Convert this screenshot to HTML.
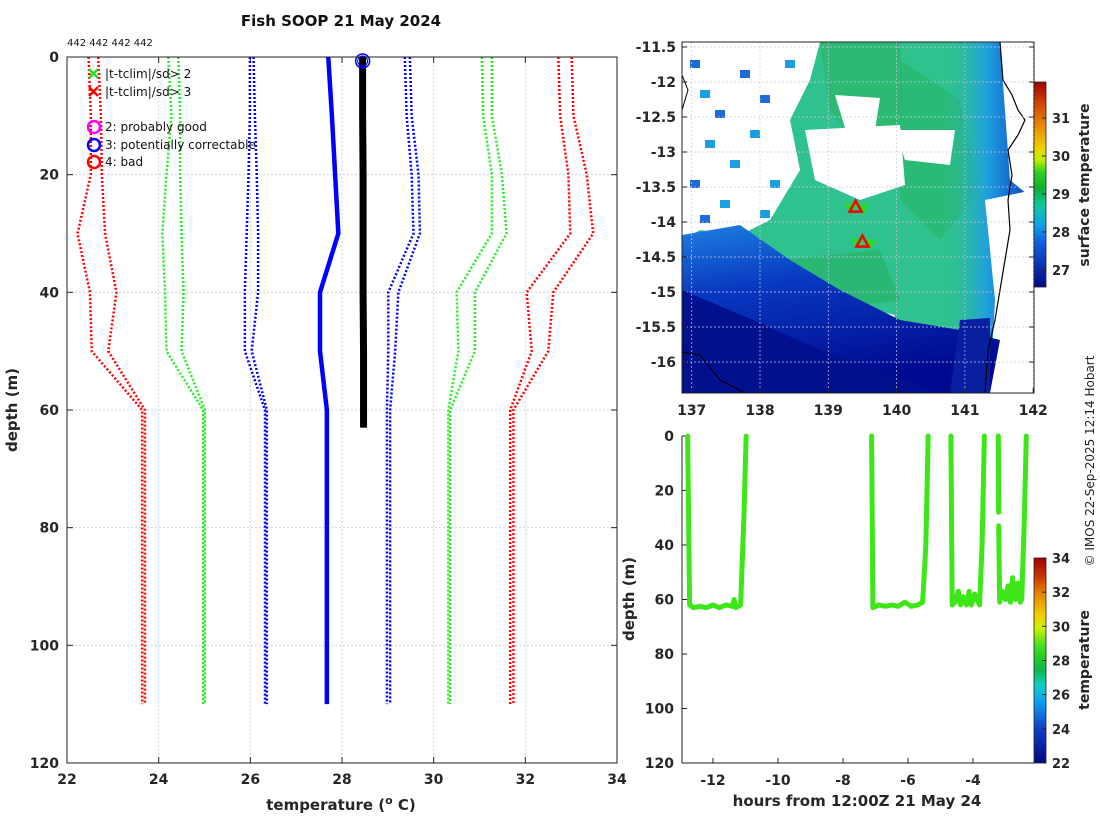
<!DOCTYPE html>
<html><head><meta charset="utf-8">
<style>
html,body{margin:0;padding:0;background:#fff;}
svg{display:block;font-family:"DejaVu Sans","Liberation Sans",sans-serif;}
.tk{font-size:14px;font-weight:bold;fill:#262626;}
.lab{font-size:15px;font-weight:bold;fill:#262626;}
</style></head>
<body>
<svg id="fig" width="1100" height="820" viewBox="0 0 1100 820" xmlns="http://www.w3.org/2000/svg">
<defs>
<linearGradient id="cb1" x1="0" y1="1" x2="0" y2="0">
<stop offset="0" stop-color="#000a80"/><stop offset="0.1" stop-color="#0a30b0"/><stop offset="0.22" stop-color="#1060e0"/>
<stop offset="0.3" stop-color="#10a0e8"/><stop offset="0.4" stop-color="#10c8a0"/><stop offset="0.48" stop-color="#10b030"/>
<stop offset="0.56" stop-color="#30d020"/><stop offset="0.62" stop-color="#c0f000"/><stop offset="0.68" stop-color="#f0d000"/>
<stop offset="0.8" stop-color="#e88000"/><stop offset="0.9" stop-color="#d04000"/><stop offset="1" stop-color="#a00000"/>
</linearGradient>
<linearGradient id="cb2" x1="0" y1="1" x2="0" y2="0">
<stop offset="0" stop-color="#000a80"/><stop offset="0.17" stop-color="#1040c8"/><stop offset="0.3" stop-color="#10a0f0"/>
<stop offset="0.38" stop-color="#10d0c8"/><stop offset="0.45" stop-color="#10b850"/><stop offset="0.52" stop-color="#20d020"/>
<stop offset="0.58" stop-color="#50e020"/><stop offset="0.66" stop-color="#d0f000"/><stop offset="0.72" stop-color="#f0d000"/>
<stop offset="0.83" stop-color="#e88000"/><stop offset="0.92" stop-color="#c03000"/><stop offset="1" stop-color="#a00000"/>
</linearGradient>
<linearGradient id="band" x1="0" y1="0" x2="0.3" y2="1">
<stop offset="0" stop-color="#1e80e0"/><stop offset="0.4" stop-color="#0838c0"/><stop offset="1" stop-color="#000a90"/>
</linearGradient>
<linearGradient id="east" x1="0" y1="0" x2="1" y2="0">
<stop offset="0" stop-color="#2ec08f" stop-opacity="0"/><stop offset="0.5" stop-color="#20a0e0"/><stop offset="1" stop-color="#0838c0"/>
</linearGradient>
<clipPath id="mapclip"><rect x="682" y="42" width="352" height="351"/></clipPath>
</defs>

<text x="341" y="26" text-anchor="middle" style="font-size:15px;font-weight:bold;fill:#111">Fish SOOP 21 May 2024</text>
<text x="67" y="46" style="font-size:10px;fill:#111">442 442 442 442</text>

<g id="left"></g>
<g id="map"></g>
<g id="br"></g>

<text transform="translate(1094,461) rotate(-90)" text-anchor="middle" style="font-size:12px;fill:#222">© IMOS 22-Sep-2025 12:14 Hobart</text>
</svg>

<script>
// ---------- Profile plot data ----------
const depths = [0, 10, 20, 30, 40, 50, 60, 110];
const redL1 = [22.47, 22.52, 22.52, 22.23, 22.50, 22.54, 23.64, 23.64];
const redL2 = [22.68, 22.74, 22.76, 22.83, 23.08, 22.90, 23.70, 23.70];
const greenL1 = [24.21, 24.28, 24.17, 24.08, 24.14, 24.17, 24.97, 24.97];
const greenL2 = [24.43, 24.47, 24.47, 24.50, 24.54, 24.50, 25.01, 25.01];
const blueL1 = [25.99, 25.99, 25.96, 25.92, 25.88, 25.88, 26.32, 26.32];
const blueL2 = [26.07, 26.10, 26.14, 26.17, 26.17, 26.03, 26.36, 26.36];
const climMean = [27.70, 27.78, 27.85, 27.92, 27.52, 27.52, 27.67, 27.67];
const blueR1 = [29.37, 29.41, 29.52, 29.56, 29.01, 29.01, 28.98, 28.98];
const blueR2 = [29.48, 29.52, 29.67, 29.70, 29.23, 29.16, 29.05, 29.05];
const greenR1 = [31.05, 31.08, 31.27, 31.27, 30.50, 30.54, 30.32, 30.32];
const greenR2 = [31.27, 31.27, 31.49, 31.59, 30.90, 30.90, 30.36, 30.36];
const redR1 = [32.72, 32.76, 32.94, 32.98, 32.03, 32.14, 31.67, 31.67];
const redR2 = [33.01, 33.05, 33.34, 33.48, 32.61, 32.50, 31.74, 31.74];
const obsDepth = [0, 10, 20, 30, 40, 50, 60, 63];
const obsTemp = [28.45, 28.45, 28.46, 28.46, 28.46, 28.47, 28.47, 28.47];
const xTicks = [22, 24, 26, 28, 30, 32, 34];
const yTicks = [0, 20, 40, 60, 80, 100, 120];
// ---------- Map data ----------
const lonTicks = [137, 138, 139, 140, 141, 142];
const latTicks = [-11.5, -12, -12.5, -13, -13.5, -14, -14.5, -15, -15.5, -16];
const sstTicks = [27, 28, 29, 30, 31];
const shipLon = [139.40, 139.50];
const shipLat = [-13.78, -14.28];
// ---------- Depth-time data ----------
const hourTicks = [-12, -10, -8, -6, -4];
const dTicks = [0, 20, 40, 60, 80, 100, 120];
const tempTicks = [22, 24, 26, 28, 30, 32, 34];
const seg1H = [-12.78, -12.72, -12.6, -12.4, -12.2, -12.0, -11.8, -11.6, -11.4, -11.35, -11.3, -11.15, -11.05, -10.98];
const seg1D = [0, 62, 63, 62.5, 63, 62, 63, 62, 62.5, 60, 63, 62, 30, 0];
const seg2H = [-7.12, -7.08, -6.9, -6.7, -6.5, -6.3, -6.1, -5.9, -5.7, -5.55, -5.45, -5.38];
const seg2D = [0, 63, 62, 62.5, 62, 62.5, 61, 62.5, 62, 61, 40, 0];
const seg3H = [-4.68, -4.64, -4.55, -4.45, -4.38, -4.3, -4.2, -4.12, -4.05, -3.95, -3.8, -3.72, -3.65];
const seg3D = [0, 62, 61, 57, 62, 59, 62, 57, 62, 58, 62, 40, 0];
const seg4aH = [-3.22, -3.21];
const seg4aD = [0, 28];
const seg4bH = [-3.21, -3.18, -3.1, -3.0, -2.92, -2.85, -2.78, -2.7, -2.62, -2.55, -2.5, -2.42, -2.36];
const seg4bD = [33, 61, 57, 60, 55, 61, 52, 60, 54, 61, 60, 30, 0];

const NS = 'http://www.w3.org/2000/svg';
function mk(tag, attrs, parent) {
  const e = document.createElementNS(NS, tag);
  for (const k in attrs) e.setAttribute(k, attrs[k]);
  parent.appendChild(e);
  return e;
}

// ===== Left profile plot =====
const L = document.getElementById('left');
const LX0 = 67, LX1 = 617, LY0 = 57, LY1 = 763;
const lx = t => LX0 + (t - 22) / 12 * (LX1 - LX0);
const ly = d => LY0 + d / 120 * (LY1 - LY0);
xTicks.forEach(t => {
  const g = mk('line', {x1: lx(t), x2: lx(t), y1: LY0, y2: LY1, stroke: '#c8c8e8', 'stroke-width': 0.8, 'stroke-dasharray': '2,2'}, L);
  
  
  mk('line', {x1: lx(t), x2: lx(t), y1: LY1, y2: LY1 - 6, stroke: '#222'}, L);
  mk('line', {x1: lx(t), x2: lx(t), y1: LY0, y2: LY0 + 6, stroke: '#222'}, L);
  const tx = mk('text', {x: lx(t), y: LY1 + 21, 'text-anchor': 'middle', class: 'tk'}, L);
  tx.textContent = t;
  
  
});
yTicks.forEach(d => {
  const g = mk('line', {x1: LX0, x2: LX1, y1: ly(d), y2: ly(d), stroke: '#c8c8e8', 'stroke-width': 0.8, 'stroke-dasharray': '2,2'}, L);
  
  
  mk('line', {x1: LX0, x2: LX0 + 6, y1: ly(d), y2: ly(d), stroke: '#222'}, L);
  mk('line', {x1: LX1, x2: LX1 - 6, y1: ly(d), y2: ly(d), stroke: '#222'}, L);
  const tx = mk('text', {x: LX0 - 8, y: ly(d) + 5, 'text-anchor': 'end', class: 'tk'}, L);
  tx.textContent = d;
  
  
});
function profLine(temps, dep, color, width, dash, name) {
  const pts = temps.map((t, i) => lx(t) + ',' + ly(dep[i])).join(' ');
  const p = mk('polyline', {points: pts, fill: 'none', stroke: color, 'stroke-width': width}, L);
  if (dash) p.setAttribute('stroke-dasharray', dash);
  
  
}
profLine(redL1, depths, '#ff0000', 2.5, '2,2', 'clim-minus-3sd-a');
profLine(redL2, depths, '#ff0000', 2.5, '2,2', 'clim-minus-3sd-b');
profLine(greenL1, depths, '#22ee22', 2.5, '2,2', 'clim-minus-2sd-a');
profLine(greenL2, depths, '#22ee22', 2.5, '2,2', 'clim-minus-2sd-b');
profLine(blueL1, depths, '#0000ee', 2.5, '2,2', 'clim-minus-1sd-a');
profLine(blueL2, depths, '#0000ee', 2.5, '2,2', 'clim-minus-1sd-b');
profLine(climMean, depths, '#0000ff', 4.5, null, 'climatology-mean');
profLine(blueR1, depths, '#0000ee', 2.5, '2,2', 'clim-plus-1sd-a');
profLine(blueR2, depths, '#0000ee', 2.5, '2,2', 'clim-plus-1sd-b');
profLine(greenR1, depths, '#22ee22', 2.5, '2,2', 'clim-plus-2sd-a');
profLine(greenR2, depths, '#22ee22', 2.5, '2,2', 'clim-plus-2sd-b');
profLine(redR1, depths, '#ff0000', 2.5, '2,2', 'clim-plus-3sd-a');
profLine(redR2, depths, '#ff0000', 2.5, '2,2', 'clim-plus-3sd-b');
profLine(obsTemp, obsDepth, '#000000', 7, null, 'observed-profile');
const qc = mk('circle', {cx: lx(obsTemp[0]), cy: ly(0) + 4, r: 7, fill: 'none', stroke: '#0000ff', 'stroke-width': 1.5}, L);


mk('circle', {cx: lx(obsTemp[0]), cy: ly(0) + 4, r: 5, fill: 'none', stroke: '#0000ff', 'stroke-width': 1}, L);
const lb = mk('rect', {x: LX0, y: LY0, width: LX1 - LX0, height: LY1 - LY0, fill: 'none', stroke: '#222', 'stroke-width': 1}, L);


// legend
const legItems = [
  {y: 74, txt: '|t-tclim|/sd> 2', sym: 'x', c: '#22dd22'},
  {y: 92, txt: '|t-tclim|/sd> 3', sym: 'x', c: '#ff0000'},
  {y: 127, txt: '2: probably good', sym: 'o', c: '#ff00ff'},
  {y: 145, txt: '3: potentially correctable', sym: 'o', c: '#0000ff'},
  {y: 162, txt: '4: bad', sym: 'o', c: '#ff0000'}
];
legItems.forEach(it => {
  const g = mk('g', {}, L);
  
  
  if (it.sym === 'x') {
    mk('path', {d: `M89 ${it.y-5} l9 9 M98 ${it.y-5} l-9 9`, stroke: it.c, 'stroke-width': 2.5}, g);
  } else {
    mk('circle', {cx: 94, cy: it.y, r: 6, fill: 'none', stroke: it.c, 'stroke-width': 2.5}, g);
  }
  const t = mk('text', {x: 105, y: it.y + 4, style: 'font-size:12px;fill:#111'}, g);
  t.textContent = it.txt;
});
const xl = mk('text', {x: 341, y: 810, 'text-anchor': 'middle', class: 'lab'}, L);
xl.innerHTML = 'temperature (<tspan dy="-6" style="font-size:11px">o</tspan><tspan dy="6"> C)</tspan>';


const yl = mk('text', {transform: `translate(17,${(LY0+LY1)/2}) rotate(-90)`, 'text-anchor': 'middle', class: 'lab'}, L);
yl.textContent = 'depth (m)';



// ===== Map =====
const M = document.getElementById('map');
const MX0 = 682, MX1 = 1034, MY0 = 42, MY1 = 393;
const mx = lon => 691.7 + (lon - 137) * 68.3;
const my = lat => 82 + (-12 - lat) * 70;
const mg = mk('g', {'clip-path': 'url(#mapclip)'}, M);
mk('rect', {x: MX0, y: MY0, width: 352, height: 351, fill: '#2fc28e'}, mg);
mk('path', {d: 'M820 42 L900 42 L905 120 L860 150 L830 110 Z', fill: '#2cba72'}, mg);
mk('path', {d: 'M900 60 L960 100 L980 190 L940 240 L900 200 Z', fill: '#28b870', opacity: 0.8}, mg);
mk('path', {d: 'M780 260 L880 250 L900 300 L830 310 Z', fill: '#28b46e', opacity: 0.8}, mg);
mk('rect', {x: 940, y: 42, width: 94, height: 351, fill: 'url(#east)'}, mg);
const wpaths = [
  'M682 42 L820 42 L810 80 L790 120 L800 170 L770 220 L740 235 L700 230 L682 240 Z',
  'M835 95 L880 98 L875 130 L845 128 Z',
  'M805 130 L900 125 L905 185 L860 200 L815 180 Z',
  'M895 130 L955 130 L950 165 L905 160 Z',
  'M765 305 L830 300 L895 315 L885 350 L800 345 L770 330 Z',
  'M985 200 L1034 190 L1034 393 L990 393 L995 300 Z',
  'M1000 42 L1034 42 L1034 200 L1010 180 Z'
];
wpaths.forEach(d => mk('path', {d: d, fill: '#ffffff'}, mg));
[[690,60],[700,90],[715,110],[740,70],[760,95],[705,140],[730,160],[750,130],[690,180],[720,200],[770,180],[785,60],[760,210],[700,215]].forEach(p => {
  mk('rect', {x: p[0], y: p[1], width: 10, height: 8, fill: (p[0] + p[1]) % 3 ? '#1aa0e0' : '#1e6ad8'}, mg);
});
mk('path', {d: 'M682 235 L740 225 L790 260 L840 290 L900 320 L960 330 L1000 340 L990 393 L682 393 Z', fill: 'url(#band)'}, mg);
mk('path', {d: 'M682 290 L753 320 L820 350 L887 373 L937 393 L682 393 Z', fill: '#00108f'}, mg);
mk('path', {d: 'M960 320 L990 318 L990 393 L950 393 Z', fill: '#0820a0'}, mg);
mk('path', {d: 'M1000 42 L1003 80 L1012 95 L1018 110 L1025 120 L1018 135 L1008 150 L1012 175 L1008 200 L1010 230 L1005 260 L1000 290 L995 320 L988 350 L985 393', fill: 'none', stroke: '#000', 'stroke-width': 1.2}, mg);
mk('path', {d: 'M682 352 L700 355 L720 380 L745 393', fill: 'none', stroke: '#000', 'stroke-width': 1.2}, mg);
mk('path', {d: 'M682 75 L688 90 L682 110', fill: 'none', stroke: '#000', 'stroke-width': 1}, mg);
lonTicks.forEach(l => {
  mk('line', {x1: mx(l), x2: mx(l), y1: MY0, y2: MY1, stroke: '#c8c8e8', 'stroke-width': 0.7, 'stroke-dasharray': '2,2'}, M);
  mk('line', {x1: mx(l), x2: mx(l), y1: MY1, y2: MY1 - 5, stroke: '#222'}, M);
  const t = mk('text', {x: mx(l), y: MY1 + 22, 'text-anchor': 'middle', class: 'tk'}, M);
  t.textContent = l;
  
  
});
latTicks.forEach(l => {
  mk('line', {x1: MX0, x2: MX1, y1: my(l), y2: my(l), stroke: '#c8c8e8', 'stroke-width': 0.7, 'stroke-dasharray': '2,2'}, M);
  mk('line', {x1: MX0, x2: MX0 + 5, y1: my(l), y2: my(l), stroke: '#222'}, M);
  mk('line', {x1: MX1, x2: MX1 - 5, y1: my(l), y2: my(l), stroke: '#222'}, M);
  const t = mk('text', {x: MX0 - 6, y: my(l) + 5, 'text-anchor': 'end', class: 'tk'}, M);
  t.textContent = l;
  
  
});
shipLon.forEach((lo, i) => {
  const x = mx(lo), y = my(shipLat[i]);
  const g = mk('g', {}, M);
  
  
  mk('path', {d: `M${x-12} ${y-3} L${x+2} ${y-3} L${x-5} ${y+7} Z M${x+2} ${y-2} L${x+14} ${y-2} L${x+8} ${y+8} Z`, fill: '#22dd22'}, g);
  mk('path', {d: `M${x-6} ${y+5} L${x} ${y-6} L${x+6} ${y+5} Z`, fill: 'none', stroke: '#ff0000', 'stroke-width': 2.5}, g);
});
const mf = mk('rect', {x: MX0, y: MY0, width: 352, height: 351, fill: 'none', stroke: '#222', 'stroke-width': 1}, M);


const CB1Y0 = 82, CB1Y1 = 287;
const cby1 = v => CB1Y1 - (v - 26.55) / (31.95 - 26.55) * (CB1Y1 - CB1Y0);
const cb1 = mk('rect', {x: 1034, y: CB1Y0, width: 12, height: CB1Y1 - CB1Y0, fill: 'url(#cb1)', stroke: '#222', 'stroke-width': 0.8}, M);


sstTicks.forEach(v => {
  mk('line', {x1: 1046, x2: 1042, y1: cby1(v), y2: cby1(v), stroke: '#222'}, M);
  const t = mk('text', {x: 1052, y: cby1(v) + 5, class: 'tk', style: 'font-size:13px'}, M);
  t.textContent = v;
  
  
});
const ct1 = mk('text', {transform: 'translate(1089,185) rotate(-90)', 'text-anchor': 'middle', class: 'lab', style: 'font-size:14px'}, M);
ct1.textContent = 'surface temperature';



// ===== Depth-time plot =====
const B = document.getElementById('br');
const BX0 = 682, BX1 = 1034, BY0 = 436, BY1 = 763;
const bx = h => 713 + (h + 12) * 32.5;
const by = d => BY0 + d / 120 * (BY1 - BY0);
mk('line', {x1: BX0, x2: BX1, y1: BY1, y2: BY1, stroke: '#222'}, B);
mk('line', {x1: BX0, x2: BX0, y1: BY0, y2: BY1, stroke: '#222'}, B);
hourTicks.forEach(h => {
  mk('line', {x1: bx(h), x2: bx(h), y1: BY1, y2: BY1 - 5, stroke: '#222'}, B);
  const t = mk('text', {x: bx(h), y: BY1 + 22, 'text-anchor': 'middle', class: 'tk'}, B);
  t.textContent = h;
  
  
});
dTicks.forEach(d => {
  mk('line', {x1: BX0, x2: BX0 + 5, y1: by(d), y2: by(d), stroke: '#222'}, B);
  const t = mk('text', {x: BX0 - 8, y: by(d) + 5, 'text-anchor': 'end', class: 'tk'}, B);
  t.textContent = d;
  
  
});
[[seg1H, seg1D], [seg2H, seg2D], [seg3H, seg3D], [seg4aH, seg4aD], [seg4bH, seg4bD]].forEach(s => {
  const pts = s[0].map((h, i) => bx(h) + ',' + by(s[1][i])).join(' ');
  const p = mk('polyline', {points: pts, fill: 'none', stroke: '#3de617', 'stroke-width': 5, 'stroke-linejoin': 'round', 'stroke-linecap': 'round'}, B);
  
  
});
const CB2Y0 = 558, CB2Y1 = 763;
const cby2 = v => CB2Y1 - (v - 22) / 12 * (CB2Y1 - CB2Y0);
const cb2 = mk('rect', {x: 1034, y: CB2Y0, width: 12, height: CB2Y1 - CB2Y0, fill: 'url(#cb2)', stroke: '#222', 'stroke-width': 0.8}, B);


tempTicks.forEach(v => {
  mk('line', {x1: 1046, x2: 1042, y1: cby2(v), y2: cby2(v), stroke: '#222'}, B);
  const t = mk('text', {x: 1052, y: cby2(v) + 5, class: 'tk', style: 'font-size:13px'}, B);
  t.textContent = v;
  
  
});
const ct2 = mk('text', {transform: 'translate(1089,660) rotate(-90)', 'text-anchor': 'middle', class: 'lab', style: 'font-size:14px'}, B);
ct2.textContent = 'temperature';


const bxl = mk('text', {x: 857, y: 806, 'text-anchor': 'middle', class: 'lab'}, B);
bxl.textContent = 'hours from 12:00Z 21 May 24';


const byl = mk('text', {transform: `translate(634,599) rotate(-90)`, 'text-anchor': 'middle', class: 'lab'}, B);
byl.textContent = 'depth (m)';


</script>
</body></html>
